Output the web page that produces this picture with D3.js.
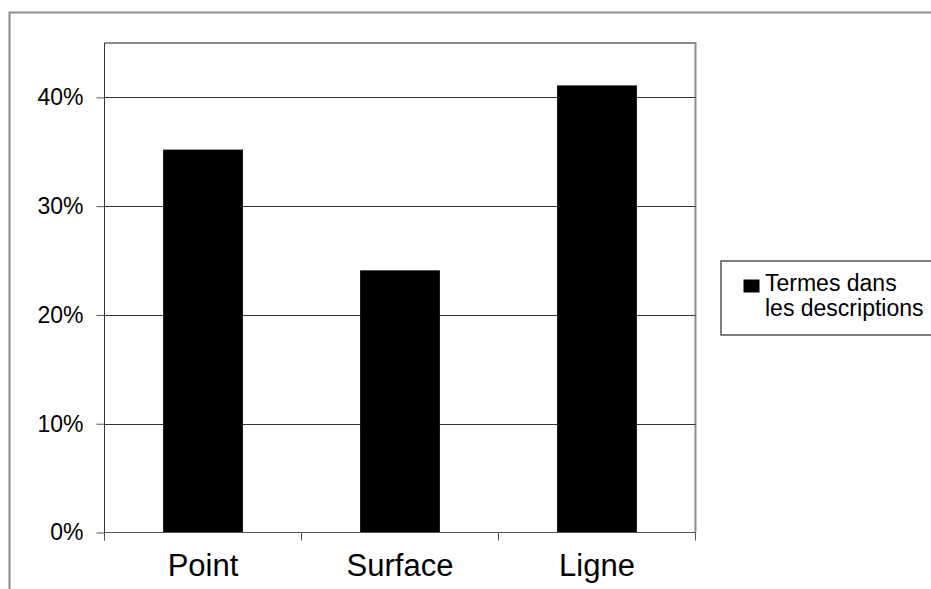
<!DOCTYPE html>
<html>
<head>
<meta charset="utf-8">
<script src="https://cdn.jsdelivr.net/npm/d3@7"></script>
<style>
  body { margin: 0; background: #fff; }
  svg { display: block; font-family: Arial, "Liberation Sans", sans-serif; }
</style>
</head>
<body>
<svg id="chart" width="931" height="589"></svg>
<script>
const categories = ["Point", "Surface", "Ligne"];
const values = [0.352, 0.241, 0.411];
const yTicks = [0, 0.1, 0.2, 0.3, 0.4];
const seriesName = ["Termes dans", "les descriptions"];

const svg = d3.select("#chart");
const W = 931, H = 589;
const plot = { left: 104.5, right: 695.5, top: 43, bottom: 532.5 };

// outer chart border
svg.append("path")
  .attr("d", `M9.5,${H} L9.5,12.5 L${W},12.5`)
  .attr("fill", "none").attr("stroke", "#8c8c8c").attr("stroke-width", 2);

const x = d3.scaleBand().domain(categories).range([plot.left, plot.right]).padding(0);
const y = d3.scaleLinear().domain([0, 0.45]).range([plot.bottom, plot.top]);

// plot area border (top & right)
svg.append("path")
  .attr("d", `M${plot.left},${plot.top} L${plot.right},${plot.top} L${plot.right},${plot.bottom}`)
  .attr("fill", "none").attr("stroke", "#8c8c8c").attr("stroke-width", 2);

// gridlines
svg.append("g").selectAll("line").data(yTicks.filter(d => d > 0)).join("line")
  .attr("x1", plot.left).attr("x2", plot.right)
  .attr("y1", d => Math.round(y(d)) + 0.5).attr("y2", d => Math.round(y(d)) + 0.5)
  .attr("stroke", "#333").attr("stroke-width", 1);

// bars
const barW = x.bandwidth() * 0.405;
svg.append("g").selectAll("rect").data(categories).join("rect")
  .attr("x", d => x(d) + (x.bandwidth() - barW) / 2)
  .attr("y", (d, i) => y(values[i]))
  .attr("width", barW)
  .attr("height", (d, i) => y(0) - y(values[i]))
  .attr("fill", "#000");

// y axis
const yAxis = d3.axisLeft(y).tickValues(yTicks).tickFormat(d3.format(".0%")).tickSize(8).tickPadding(13);
const gy = svg.append("g").attr("transform", `translate(${plot.left},0)`).call(yAxis);
gy.select(".domain").attr("stroke", "#333").attr("d", `M0,${plot.top}V${plot.bottom + 8}`);
gy.selectAll(".tick line").attr("stroke", "#555");
gy.selectAll(".tick text").attr("font-size", 23).attr("fill", "#000")
  .attr("font-family", "Arial, 'Liberation Sans', sans-serif");

// x axis
const gx = svg.append("g").attr("transform", `translate(0,${plot.bottom})`);
gx.append("line").attr("x1", plot.left).attr("x2", plot.right).attr("y1", 0).attr("y2", 0)
  .attr("stroke", "#555").attr("stroke-width", 1.2);
const bounds = categories.map(c => x(c)).concat([x(categories[categories.length - 1]) + x.bandwidth()]);
gx.selectAll("line.tk").data(bounds).join("line").attr("class", "tk")
  .attr("x1", d => d).attr("x2", d => d).attr("y1", 0).attr("y2", 8)
  .attr("stroke", "#555");
gx.selectAll("text").data(categories).join("text")
  .attr("x", d => x(d) + x.bandwidth() / 2)
  .attr("y", 43)
  .attr("text-anchor", "middle")
  .attr("font-size", 31)
  .attr("fill", "#000")
  .text(d => d);

// legend
const lg = svg.append("g");
lg.append("rect").attr("x", 721).attr("y", 261).attr("width", 240).attr("height", 74)
  .attr("fill", "#fff").attr("stroke", "#555").attr("stroke-width", 1.5);
lg.append("rect").attr("x", 743.5).attr("y", 279.5).attr("width", 16).attr("height", 13).attr("fill", "#000");
lg.selectAll("text").data(seriesName).join("text")
  .attr("x", 765).attr("y", (d, i) => 291 + i * 24.5)
  .attr("font-size", 23).attr("fill", "#000")
  .text(d => d);
</script>
</body>
</html>
